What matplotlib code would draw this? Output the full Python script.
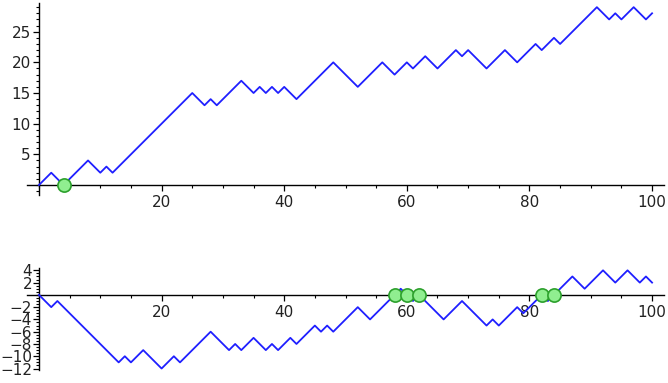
import numpy as np
import matplotlib
matplotlib.use('Agg')
import matplotlib.pyplot as plt
from matplotlib.ticker import MultipleLocator, FixedLocator

# turning points of the first walk
walk1_x = [0, 2, 4, 8, 10, 11, 12, 25, 27, 28, 29, 33, 35, 36, 37, 38, 39, 40, 42, 48,
           52, 56, 58, 60, 61, 63, 65, 68, 69, 70, 73, 76, 78, 81, 82, 84, 85, 91, 93,
           94, 95, 97, 99, 100]
walk1_y = [0, 2, 0, 4, 2, 3, 2, 15, 13, 14, 13, 17, 15, 16, 15, 16, 15, 16, 14, 20,
           16, 20, 18, 20, 19, 21, 19, 22, 21, 22, 19, 22, 20, 23, 22, 24, 23, 29, 27,
           28, 27, 29, 27, 28]
zeros1 = [4]

# turning points of the second walk
walk2_x = [0, 2, 3, 13, 14, 15, 17, 20, 22, 23, 28, 31, 32, 33, 35, 37, 38, 39, 41, 42,
           45, 46, 47, 48, 52, 54, 58, 59, 60, 61, 62, 66, 69, 73, 74, 75, 78, 79, 82,
           83, 84, 87, 89, 92, 94, 96, 98, 99, 100]
walk2_y = [0, -2, -1, -11, -10, -11, -9, -12, -10, -11, -6, -9, -8, -9, -7, -9, -8, -9, -7, -8,
           -5, -6, -5, -6, -2, -4, 0, 1, 0, -1, 0, -4, -1, -5, -4, -5, -2, -3, 0,
           -1, 0, 3, 1, 4, 2, 4, 2, 3, 2]
zeros2 = [58, 60, 62, 82, 84]

x_ticks = [20, 40, 60, 80, 100]
y1_ticks = [5, 10, 15, 20, 25]
y2_ticks = [-12, -10, -8, -6, -4, -2, 2, 4]


def sage_axes(ax, xlim, ylim, yticks, yminor):
    ax.set_xlim(xlim)
    ax.set_ylim(ylim)
    for s in ['top', 'right']:
        ax.spines[s].set_visible(False)
    ax.spines['left'].set_position(('data', 0))
    ax.spines['bottom'].set_position(('data', 0))
    for s in ['left', 'bottom']:
        ax.spines[s].set_linewidth(1.0)
        ax.spines[s].set_color('black')
    ax.xaxis.set_major_locator(FixedLocator(x_ticks))
    ax.xaxis.set_minor_locator(MultipleLocator(5))
    ax.yaxis.set_major_locator(FixedLocator(yticks))
    ax.yaxis.set_minor_locator(MultipleLocator(yminor))
    ax.tick_params(which='major', length=4, width=0.9, labelsize=11, colors='black',
                   labelcolor='#222222')
    ax.tick_params(which='minor', length=2, width=0.8)
    ax.tick_params(axis='y', pad=2)
    ax.tick_params(axis='x', pad=3)
    ax.patch.set_visible(False)


fig = plt.figure(figsize=(6.68, 3.83), dpi=100)

ax1 = fig.add_axes([0.040, 0.4914, 0.9545, 0.4995])
ax1.plot(walk1_x, walk1_y, color='#1f1fff', linewidth=1.3, zorder=3)
ax1.plot(zeros1, [0] * len(zeros1), 'o', markersize=9.5, markerfacecolor='#90ee90',
         markeredgecolor='#2ca02c', markeredgewidth=1.2, zorder=5, clip_on=False)
sage_axes(ax1, (-2, 102), (-1.6, 29.6), y1_ticks, 1)

ax2 = fig.add_axes([0.040, 0.033, 0.9545, 0.266])
ax2.plot(walk2_x, walk2_y, color='#1f1fff', linewidth=1.3, zorder=3)
ax2.plot(zeros2, [0] * len(zeros2), 'o', markersize=9.5, markerfacecolor='#90ee90',
         markeredgecolor='#2ca02c', markeredgewidth=1.2, zorder=5, clip_on=False)
sage_axes(ax2, (-2, 102), (-12.3, 4.3), y2_ticks, 0.5)
ax2.tick_params(axis='y', labelsize=11, pad=1)

fig.savefig('out.png', dpi=100)
